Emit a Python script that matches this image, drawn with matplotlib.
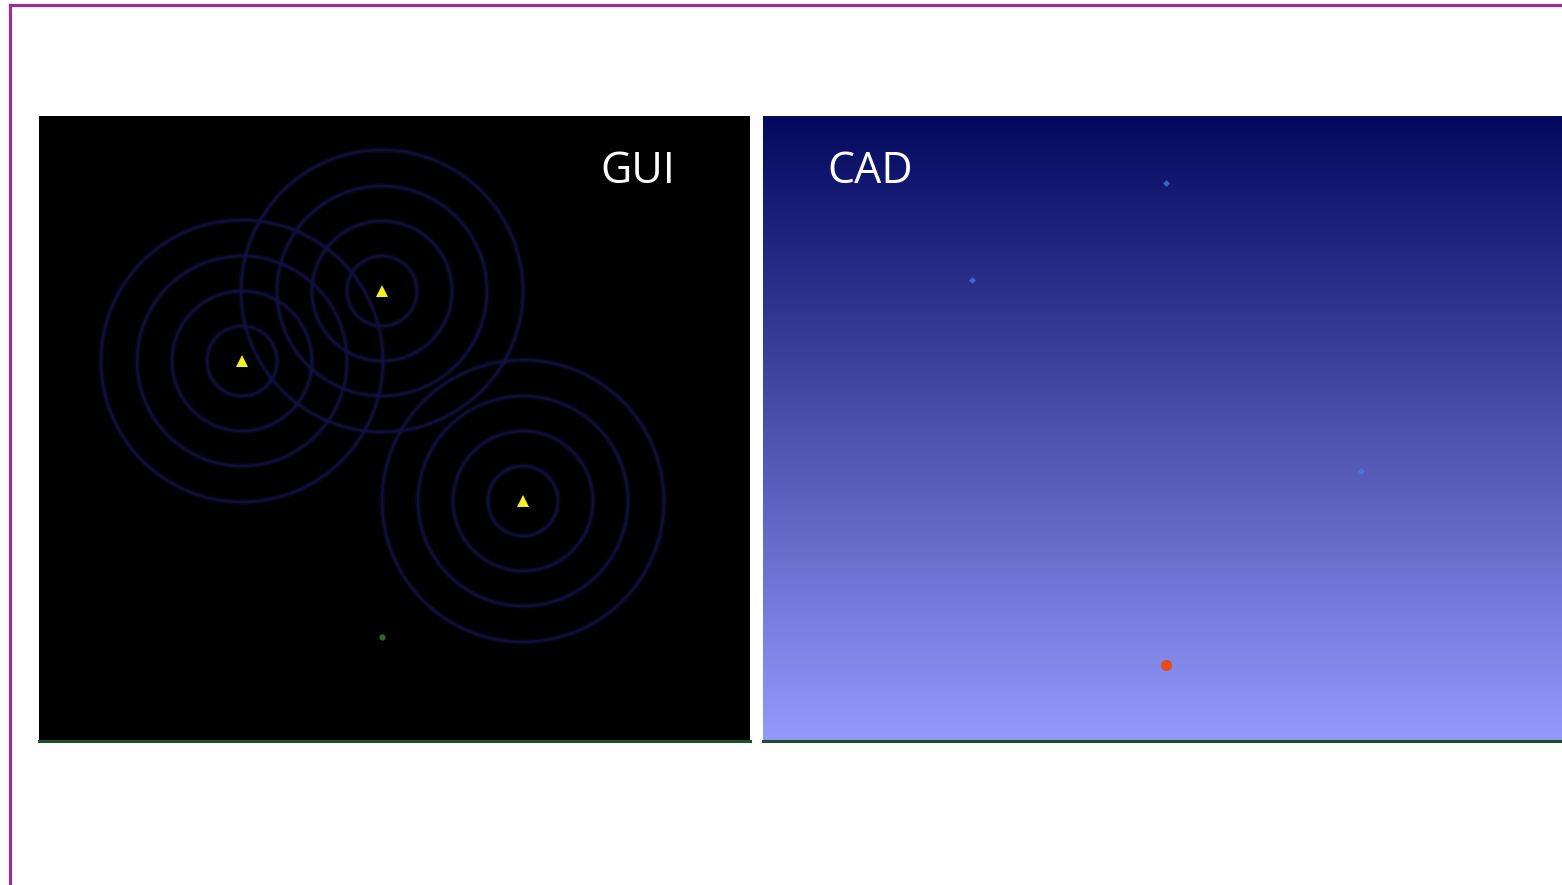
import matplotlib
matplotlib.use('Agg')
import matplotlib.pyplot as plt
from matplotlib.patches import Circle
from matplotlib.lines import Line2D
import numpy as np

W, H = 1562, 885

# GUI panel data (pixel units inside the panel, y measured from the top)
source_x = [203, 343, 484]
source_y = [245, 175, 385]
ring_radii = [35, 70, 105, 141]
receiver_x = [343]
receiver_y = [521]

# CAD panel data
blue_x = [403, 209, 598]
blue_y = [67, 164, 355]
red_x = [403]
red_y = [549]

panel_labels = ['GUI', 'CAD']

fig = plt.figure(figsize=(W / 100, H / 100), dpi=100)
fig.patch.set_facecolor('white')

# magenta frame (top and left edges)
fig.add_artist(Line2D([10 / W, 1], [1 - 5 / H, 1 - 5 / H], color='#9b2d96', lw=2.3))
fig.add_artist(Line2D([10 / W, 10 / W], [0, 1 - 5 / H], color='#9b2d96', lw=2.3))


def panel(x0, y0, x1, y1):
    ax = fig.add_axes([x0 / W, 1 - y1 / H, (x1 - x0) / W, (y1 - y0) / H])
    ax.set_xlim(0, x1 - x0)
    ax.set_ylim(y1 - y0, 0)
    ax.set_xticks([])
    ax.set_yticks([])
    for s in ['top', 'left', 'right']:
        ax.spines[s].set_visible(False)
    ax.spines['bottom'].set_color('#1d4f2a')
    ax.spines['bottom'].set_linewidth(2.2)
    return ax


# left: GUI
ax1 = panel(39, 116, 750, 741)
ax1.set_facecolor('black')
for cx, cy in zip(source_x, source_y):
    for r in ring_radii:
        # soft glow + core line
        ax1.add_patch(Circle((cx, cy), r, fill=False, ec='#14104a', lw=4, alpha=0.35))
        ax1.add_patch(Circle((cx, cy), r, fill=False, ec='#15113f', lw=1.8, alpha=0.8))
ax1.plot(source_x, source_y, '^', color='#f2f01e', markersize=8, markeredgewidth=0)
ax1.plot(receiver_x, receiver_y, 'o', color='#2f6a28', markersize=4.5, markeredgewidth=0)
ax1.text(599, 56, panel_labels[0], color='white', fontsize=31, family='Open Sans',
         ha='center', va='center')

# right: CAD with vertical gradient background
ax2 = panel(763, 116, 1562, 741)
top = np.array([3, 9, 94]) / 255
bottom = np.array([148, 154, 252]) / 255
t = np.linspace(0, 1, 256)[:, None]
grad = (top + (bottom - top) * t)[:, None, :]
ax2.imshow(grad, extent=[0, 799, 625, 0], aspect='auto', zorder=0)
ax2.set_xlim(0, 799)
ax2.set_ylim(625, 0)
ax2.plot(blue_x, blue_y, 'D', color='#4f7fe0', markersize=3.5, markeredgewidth=0, alpha=0.7)
ax2.plot(red_x, red_y, 'o', color='#e84a1a', markersize=8, markeredgewidth=0)
ax2.text(107, 56, panel_labels[1], color='white', fontsize=31, family='Open Sans',
         ha='center', va='center')

fig.savefig('out.png', dpi=100)
